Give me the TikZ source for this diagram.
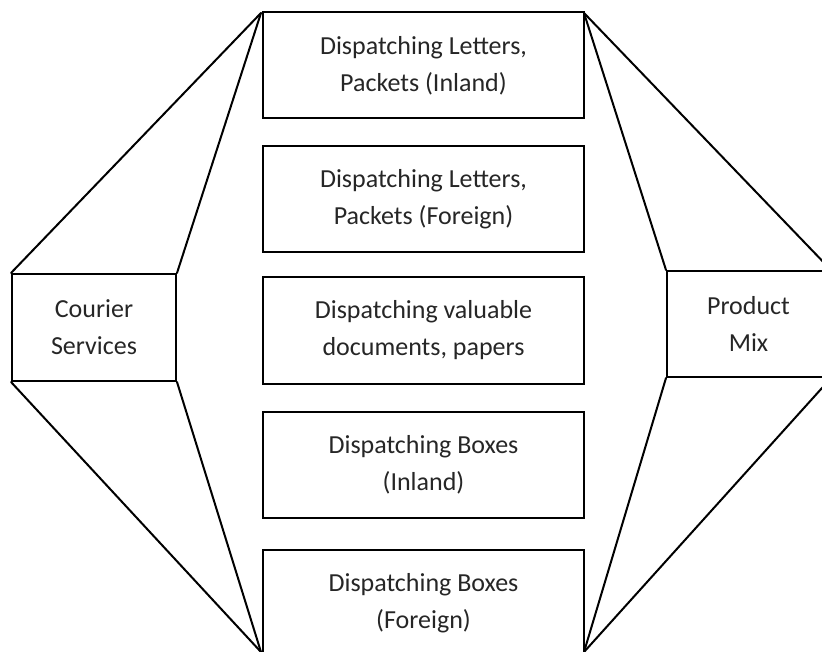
\documentclass[tikz,border=0pt]{standalone}
\usepackage{fontspec}
\setmainfont{Carlito}
\begin{document}
\begin{tikzpicture}[x=1pt,y=-1pt,
  box/.style={draw=black,line width=2pt,minimum width=321pt,minimum height=106pt,align=center,inner sep=0pt,font=\fontsize{26}{37}\selectfont,text=black!85},
  sidebox/.style={box,minimum width=164pt,minimum height=107pt},
  conn/.style={line width=2pt,line cap=round}]
\useasboundingbox (0,0) rectangle (822,652);
\clip (0,0) rectangle (822,652);
\node[box] (b1) at (423.5,65.5) {Dispatching Letters,\\Packets (Inland)};
\node[box] (b2) at (423.5,199.5) {Dispatching Letters,\\Packets (Foreign)};
\node[box] (b3) at (423.5,330.5) {Dispatching valuable\\documents, papers};
\node[box] (b4) at (423.5,464.5) {Dispatching Boxes\\(Inland)};
\node[box] (b5) at (423.5,603) {Dispatching Boxes\\(Foreign)};
\node[sidebox] (cs) at (94,327.5) {Courier\\Services};
\node[sidebox,minimum width=163pt,minimum height=106pt] (pm) at (748.5,324) {Product\\Mix};
\coordinate (tl) at (261,13);
\coordinate (bl) at (261,652);
\coordinate (tr) at (584,13);
\coordinate (br) at (584,652);
\draw[conn] (tl) -- (cs.north west);
\draw[conn] (tl) -- (cs.north east);
\draw[conn] (bl) -- (cs.south west);
\draw[conn] (bl) -- (cs.south east);
\draw[conn] (tr) -- (pm.north west);
\draw[conn] (tr) -- (pm.north east);
\draw[conn] (br) -- (pm.south west);
\draw[conn] (br) -- (pm.south east);
\end{tikzpicture}
\end{document}
